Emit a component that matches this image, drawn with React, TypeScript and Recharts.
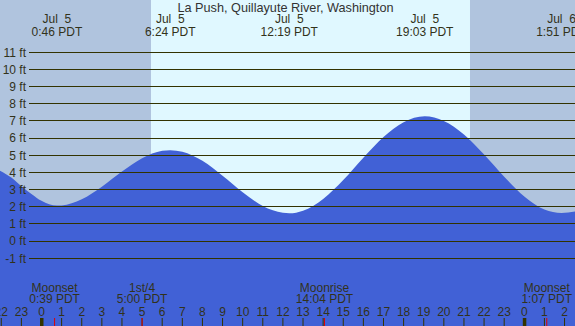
import { ComposedChart, Area, XAxis, YAxis, ReferenceArea, ReferenceLine } from "recharts";

// tide height (ft), hours from local midnight Jul 5
const tideHours = [
  -2.063, -1.5, -1, -0.5, 0, 0.767, 1, 2, 3, 4, 5, 6, 6.4, 7, 8, 9, 10, 11, 12, 12.317,
  13, 14, 15, 16, 17, 18, 19.05, 20, 21, 22, 23, 24, 25, 25.85, 26.52,
];
const tideFeet = [
  4.1, 3.7, 3.2, 2.75, 2.35, 2.07, 2.08, 2.44, 3.17, 4.05, 4.83, 5.26, 5.3, 5.21, 4.68, 3.81, 2.85, 2.05, 1.65, 1.62,
  1.77, 2.46, 3.56, 4.86, 6.07, 6.93, 7.27, 7.0, 6.21, 5.04, 3.75, 2.6, 1.84, 1.64, 1.72,
];

const gridFeet = [-1, 0, 1, 2, 3, 4, 5, 6, 7, 8, 9, 10, 11];
const gridLabels = ["-1 ft", "0 ft", "1 ft", "2 ft", "3 ft", "4 ft", "5 ft", "6 ft", "7 ft", "8 ft", "9 ft", "10 ft", "11 ft"];

const extremeHours = [0.767, 6.4, 12.317, 19.05, 25.85];
const extremeDays = ["Jul  5", "Jul  5", "Jul  5", "Jul  5", "Jul  6"];
const extremeTimes = ["0:46 PDT", "6:24 PDT", "12:19 PDT", "19:03 PDT", "1:51 PDT"];

const hourTicks = [-2, -1, 0, 1, 2, 3, 4, 5, 6, 7, 8, 9, 10, 11, 12, 13, 14, 15, 16, 17, 18, 19, 20, 21, 22, 23, 24, 25, 26];
const hourLabels = ["22", "23", "0", "1", "2", "3", "4", "5", "6", "7", "8", "9", "10", "11", "12", "13", "14", "15", "16", "17", "18", "19", "20", "21", "22", "23", "0", "1", "2"];

const moonHours = [0.65, 5.0, 14.067, 25.117];
const moonEvents = ["Moonset", "1st/4", "Moonrise", "Moonset"];
const moonTimes = ["0:39 PDT", "5:00 PDT", "14:04 PDT", "1:07 PDT"];

const sunrise = 5.443;
const sunset = 21.3;

const X_DOMAIN: [number, number] = [-2.063, 26.52];
const Y_DOMAIN: [number, number] = [-4.944, 14.047];

const NIGHT = "#b0c4de";
const DAY = "#e0f8ff";
const WATER = "#4161d6";
const INK = "#333300";
const TEXT = "#32321a";
const FONT = "'Liberation Sans', Arial, sans-serif";

const data = tideHours.map((h, i) => ({ h, ft: tideFeet[i] }));

function HourTick(props: any) {
  const { x, payload } = props;
  const i = hourTicks.indexOf(payload.value);
  const label = hourLabels[i];
  return (
    <g>
      <text x={x} y={316} textAnchor="middle" fontSize={12} fontFamily={FONT} fill={TEXT}>
        {label}
      </text>
      {label === "0" ? (
        <rect x={x - 1.5} y={318} width={3.5} height={8} fill={INK} />
      ) : (
        <line x1={x} x2={x} y1={318} y2={326} stroke={INK} strokeWidth={1} />
      )}
    </g>
  );
}

function MoonTick(props: any) {
  const { x, payload } = props;
  const i = moonHours.indexOf(payload.value);
  return (
    <g>
      <text x={x} y={292} textAnchor="middle" fontSize={12} fontFamily={FONT} fill={TEXT}>
        {moonEvents[i]}
      </text>
      <text x={x} y={303} textAnchor="middle" fontSize={12} fontFamily={FONT} fill={TEXT}>
        {moonTimes[i]}
      </text>
      <line x1={x} x2={x} y1={318} y2={326} stroke="#e00000" strokeWidth={1} />
    </g>
  );
}

function ExtremeTick(props: any) {
  const { x, payload } = props;
  const i = extremeHours.indexOf(payload.value);
  return (
    <g>
      <text x={x} y={23} textAnchor="middle" fontSize={12} fontFamily={FONT} fill={TEXT} style={{ whiteSpace: "pre" }}>
        {extremeDays[i]}
      </text>
      <text x={x} y={36} textAnchor="middle" fontSize={12} fontFamily={FONT} fill={TEXT}>
        {extremeTimes[i]}
      </text>
    </g>
  );
}

const gridLabel = (text: string) => (props: any) => {
  const vb = props.viewBox || {};
  return (
    <text x={vb.x - 3} y={vb.y + 4.3} textAnchor="end" fontSize={12} fontFamily={FONT} fill={TEXT}>
      {text}
    </text>
  );
};

const axisCommon = {
  dataKey: "h",
  type: "number" as const,
  domain: X_DOMAIN,
  allowDataOverflow: true,
  interval: 0 as const,
  height: 1,
  axisLine: false,
  tickLine: false,
  tickSize: 0,
  tickMargin: 0,
};

export default function App() {
  return (
    <div style={{ position: "absolute", left: 0, top: 0, width: 575, height: 326 }}>
      <ComposedChart width={575} height={326} data={data} margin={{ top: -1, right: 0, bottom: -2, left: 0 }}>
        <XAxis xAxisId="hours" ticks={hourTicks} tick={HourTick} {...axisCommon} />
        <XAxis xAxisId="moon" ticks={moonHours} tick={MoonTick} {...axisCommon} />
        <XAxis xAxisId="extremes" orientation="top" ticks={extremeHours} tick={ExtremeTick} {...axisCommon} />
        <YAxis hide type="number" domain={Y_DOMAIN} allowDataOverflow />

        <ReferenceArea xAxisId="hours" x1={X_DOMAIN[0]} x2={sunrise} fill={NIGHT} fillOpacity={1} stroke="none" zIndex={-200} />
        <ReferenceArea xAxisId="hours" x1={sunrise} x2={sunset} fill={DAY} fillOpacity={1} stroke="none" zIndex={-200} />
        <ReferenceArea xAxisId="hours" x1={sunset} x2={X_DOMAIN[1]} fill={NIGHT} fillOpacity={1} stroke="none" zIndex={-200} />

        <Area
          xAxisId="hours"
          type="monotone"
          dataKey="ft"
          stroke="none"
          fill={WATER}
          fillOpacity={1}
          baseValue="dataMin"
          dot={false}
          activeDot={false}
          isAnimationActive={false}
        />

        {gridFeet.map((v, i) => (
          <ReferenceLine
            key={v}
            xAxisId="hours"
            segment={[
              { x: -0.621, y: v },
              { x: X_DOMAIN[1], y: v },
            ]}
            stroke={INK}
            strokeWidth={1}
            shapeRendering="crispEdges"
            zIndex={450}
            label={gridLabel(gridLabels[i])}
          />
        ))}
      </ComposedChart>
      <div
        style={{
          position: "absolute",
          left: 0,
          top: 1,
          width: 571,
          textAlign: "center",
          fontFamily: FONT,
          fontSize: 12.7,
          lineHeight: "15px",
          color: "#333333",
        }}
      >
        La Push, Quillayute River, Washington
      </div>
    </div>
  );
}
